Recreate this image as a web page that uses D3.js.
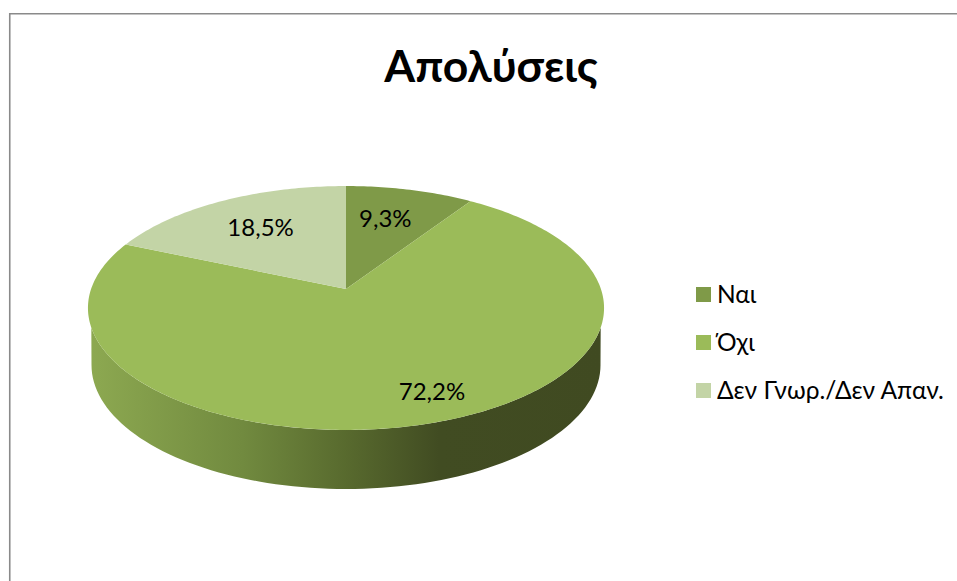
<!DOCTYPE html>
<html>
<head>
<meta charset="utf-8">
<script src="https://cdn.jsdelivr.net/npm/d3@7"></script>
<style>
  html, body { margin: 0; padding: 0; background: #fff; }
  svg { display: block; }
  text { font-family: Lato, "Open Sans", "Noto Sans", sans-serif; fill: #000; }
</style>
</head>
<body>
<svg id="pie_chart" width="957" height="581"></svg>
<script>
// chart data
const title = "Απολύσεις";
const categories = ["Ναι", "Όχι", "Δεν Γνωρ./Δεν Απαν."];
const shares = [9.3, 72.2, 18.5];
const shareLabels = ["9,3%", "72,2%", "18,5%"];
const sliceColors = ["#7F9A48", "#9BBB59", "#C3D4A6"];

const width = 957, height = 581;
const svg = d3.select("#pie_chart");

// frame, only top and left edge are visible in the crop
svg.append("path")
  .attr("d", `M9.75,${height} V13.75 H${width}`)
  .attr("fill", "none")
  .attr("stroke", "#8a8a8a")
  .attr("stroke-width", 1.6);

svg.append("text")
  .attr("x", 491)
  .attr("y", 82)
  .attr("text-anchor", "middle")
  .style("font-size", "44.5px")
  .style("font-weight", "bold")
  .text(title);

// pie lid is a circle seen in perspective, apex sits above the ellipse centre
const apexX = 346, apexY = 289;
const lidRx = 254.9, lidRy = 119, tilt = 0.1557;

function project(angle, r) {
  const u = r * Math.sin(angle), v = r * Math.cos(angle);
  const w = 1 + tilt * v;
  return [apexX + lidRx * u / w, apexY - lidRy * v / w];
}

const pie = d3.pie().sort(null).value(d => d);
const arcs = pie(shares);

function rimPoints(a0, a1) {
  const n = Math.max(2, Math.ceil(Math.abs(a1 - a0) * 60));
  return d3.range(n + 1).map(i => project(a0 + (a1 - a0) * i / n, 1));
}

const line = d3.line();

// side wall
const baseCx = 346, baseCy = 365, baseRx = 254.5, baseRy = 124;
const defs = svg.append("defs");
const wall = defs.append("linearGradient")
  .attr("id", "wall_gradient")
  .attr("gradientUnits", "userSpaceOnUse")
  .attr("x1", 88).attr("x2", 604).attr("y1", 0).attr("y2", 0);
[[0, "#8DA951"], [0.3, "#718A3F"], [0.5, "#586A2E"], [0.68, "#414C22"], [1, "#404A21"]]
  .forEach(s => wall.append("stop").attr("offset", s[0]).attr("stop-color", s[1]));

const baseEdge = d3.range(0, 181, 2).map(deg => {
  const t = deg * Math.PI / 180;
  return [baseCx + baseRx * Math.cos(t), baseCy + baseRy * Math.sin(t)];
});
const lidEdge = rimPoints(Math.PI * 0.6, Math.PI * 1.4);

svg.append("path")
  .attr("d", line(baseEdge.concat(lidEdge.reverse())) + "Z")
  .attr("fill", "url(#wall_gradient)");

// lid slices
svg.append("g")
  .selectAll("path")
  .data(arcs)
  .join("path")
  .attr("d", d => line([[apexX, apexY]].concat(rimPoints(d.startAngle, d.endAngle))) + "Z")
  .attr("fill", (d, i) => sliceColors[i]);

// data labels, excel placed them by hand so each gets a small nudge
const labelRadius = 0.68;
const labelNudge = [[-6, -1], [31, 16], [2, 0]];
svg.append("g")
  .selectAll("text")
  .data(arcs)
  .join("text")
  .attr("x", (d, i) => project((d.startAngle + d.endAngle) / 2, labelRadius)[0] + labelNudge[i][0])
  .attr("y", (d, i) => project((d.startAngle + d.endAngle) / 2, labelRadius)[1] + labelNudge[i][1] + 9)
  .attr("text-anchor", "middle")
  .style("font-size", "24px")
  .text((d, i) => shareLabels[i]);

// legend
const legendY = d3.scalePoint().domain(categories).range([294.5, 390.5]);
const legend = svg.append("g")
  .selectAll("g")
  .data(categories)
  .join("g")
  .attr("transform", d => `translate(696,${legendY(d)})`);

legend.append("rect")
  .attr("x", 0).attr("y", -7.5)
  .attr("width", 15).attr("height", 15)
  .attr("fill", (d, i) => sliceColors[i]);

legend.append("text")
  .attr("x", 21).attr("y", 8)
  .style("font-size", "24.5px")
  .text(d => d);
</script>
</body>
</html>
